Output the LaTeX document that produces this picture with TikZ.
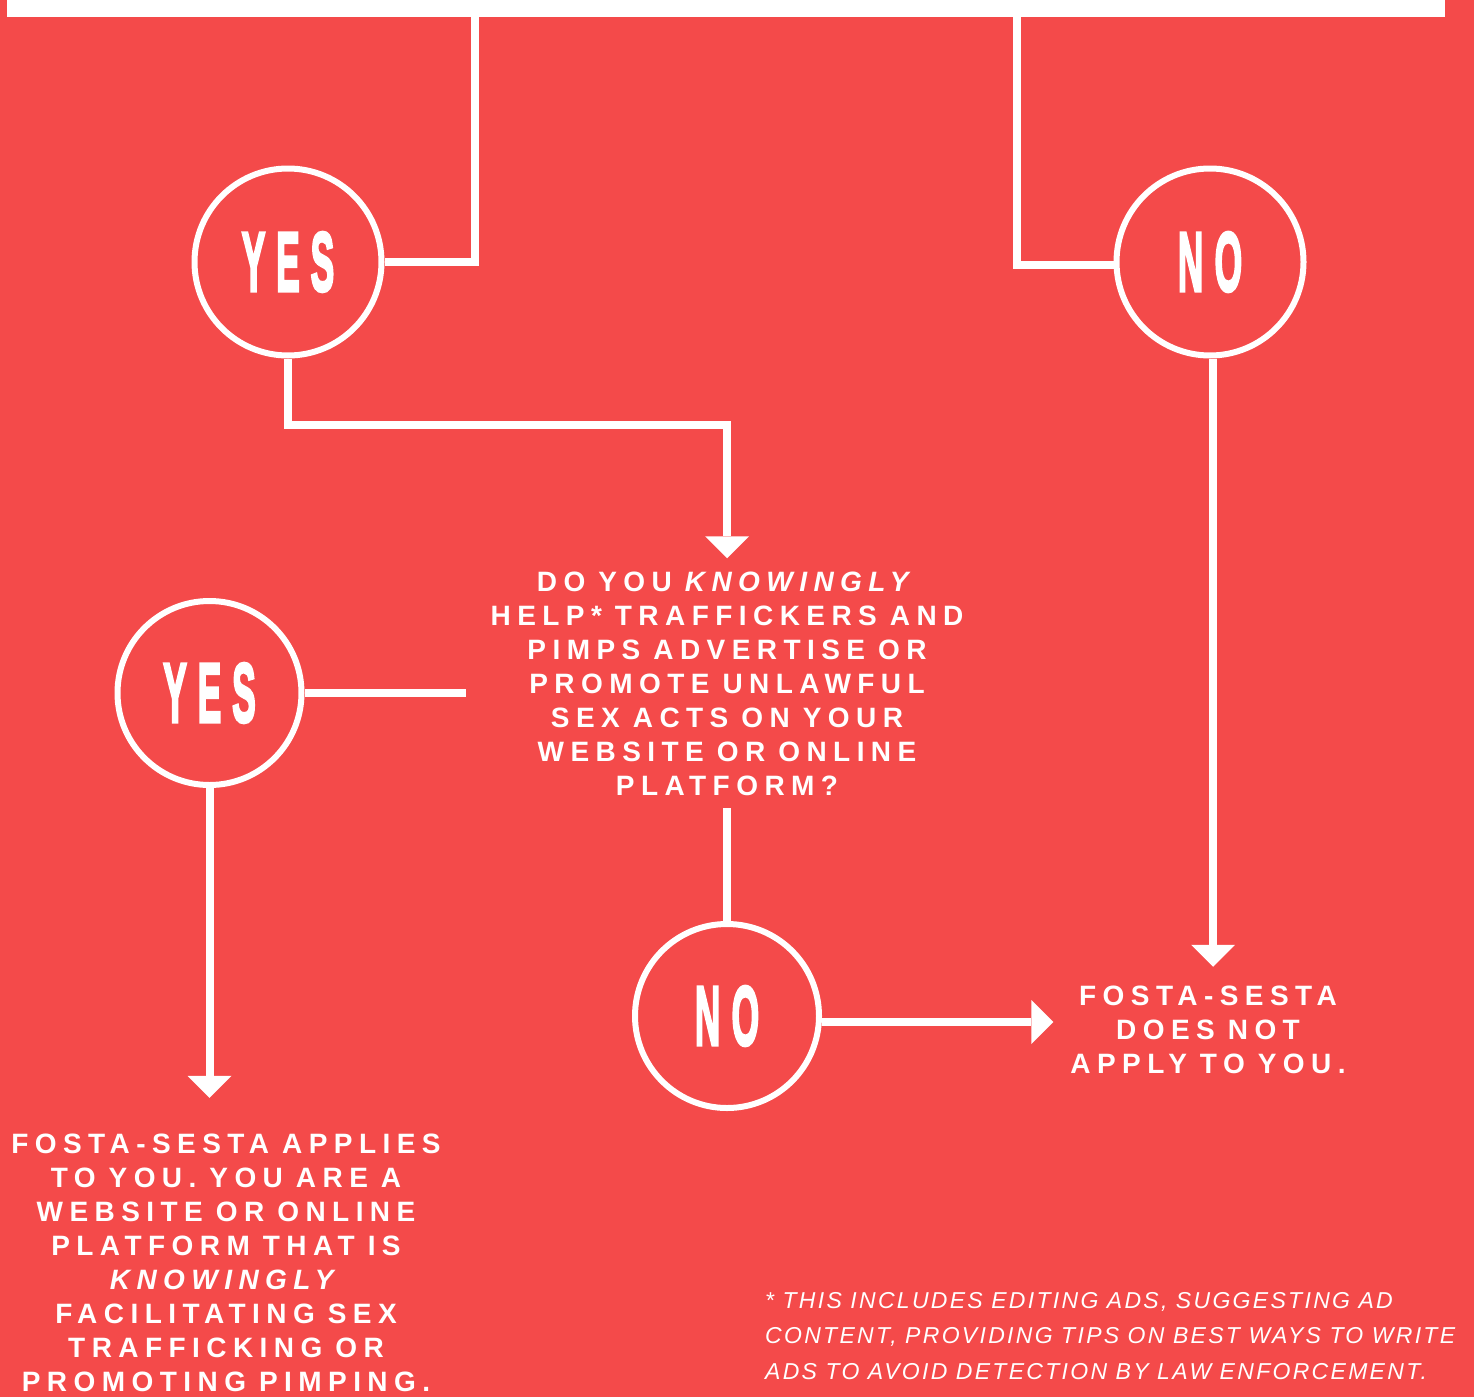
\documentclass[tikz,border=0pt]{standalone}
\usepackage{fontspec}
\setmainfont{Liberation Sans}
\newfontfamily\bodyfont{Liberation Sans}[LetterSpace=23]
\newfontfamily\notefont{Liberation Sans}[LetterSpace=10]
\newfontfamily\bubblefont{Liberation Sans Bold}[FakeBold=4]
\usetikzlibrary{arrows.meta}
\definecolor{bgred}{HTML}{F44A4A}
\newcommand\yesnolabel[1]{\scalebox{0.42}[1]{\bubblefont\fontsize{84}{84}\selectfont #1}}
\newcommand\wordgap{\spaceskip=13pt\relax}
\newcommand\notegap{\spaceskip=8.5pt\relax}
\begin{document}
\begin{tikzpicture}[x=1pt,y=-1pt,
  conn/.style={draw=white,line width=8pt},
  arr/.style={conn,-{Triangle[width=44pt,length=22pt,line width=0pt]}},
  bubble/.style={circle,draw=white,line width=6pt,inner sep=0pt,text=white},
  bigtext/.style={text=white,align=center,anchor=base,
    font=\bodyfont\bfseries\fontsize{28}{34}\selectfont},
  notetext/.style={text=white,align=left,anchor=base west,inner sep=0pt,
    text width=720pt,font=\notefont\itshape\fontsize{23}{35.5}\selectfont}]
\fill[bgred] (0,0) rectangle (1474,1397);
\useasboundingbox (0,0) rectangle (1474,1397);
\node[fill=white,inner sep=0pt,outer sep=0pt,minimum width=1438pt,minimum height=17pt,anchor=north west] (bar) at (7,0) {};
% bubbles
\node[bubble,minimum size=187pt] (yes1) at (288,262) {\yesnolabel{Y\kern26pt E\kern26pt S}};
\node[bubble,minimum size=187pt] (no1) at (1210,262) {\yesnolabel{N\kern27pt O}};
\node[bubble,minimum size=184pt] (yes2) at (209.5,693) {\yesnolabel{Y\kern26pt E\kern26pt S}};
\node[bubble,minimum size=184pt] (no2) at (727,1016) {\yesnolabel{N\kern27pt O}};
% texts
\node[bigtext,text width=520pt,inner xsep=1pt,inner ysep=13pt] (q) at (727,591)
  {\wordgap DO YOU \textit{KNOWINGLY}\\HELP* TRAFFICKERS AND\\PIMPS ADVERTISE OR\\PROMOTE UNLAWFUL\\SEX ACTS ON YOUR\\WEBSITE OR ONLINE\\PLATFORM?};
\node[bigtext,text width=300pt,inner xsep=4.5pt,inner ysep=18.5pt] (r) at (1208,1005)
  {\wordgap FOSTA-SESTA\\DOES NOT\\APPLY TO YOU.};
\node[bigtext,text width=450pt,inner xsep=0pt,inner ysep=35.5pt] (b) at (226,1153)
  {\wordgap FOSTA-SESTA APPLIES\\TO YOU. YOU ARE A\\WEBSITE OR ONLINE\\PLATFORM THAT IS\\\textit{KNOWINGLY}\\FACILITATING SEX\\TRAFFICKING OR\\PROMOTING PIMPING.};
\node[notetext] (n) at (765,1308)
  {\notegap * THIS INCLUDES EDITING ADS, SUGGESTING AD\\CONTENT, PROVIDING TIPS ON BEST WAYS TO WRITE\\ADS TO AVOID DETECTION BY LAW ENFORCEMENT.};
% connectors
\coordinate (t1) at (475,0);
\coordinate (t2) at (1017,0);
\coordinate (k1) at (727,425);
\draw[conn] (bar.south -| t1) |- (yes1.east);
\draw[conn] (bar.south -| t2) |- ([yshift=-3pt]no1.west);
\draw[arr] (yes1.south) |- (k1) -- (k1 |- q.north);
\draw[conn] (yes2.east) -- (yes2.east -| q.west);
\draw[conn] (q.south) -- (no2.north);
\draw[arr] ([yshift=-6pt]no2.east) -- ([yshift=-6pt]no2.east -| r.west);
\draw[arr] ([xshift=3pt]no1.south) -- ([xshift=3pt]no1.south |- r.north);
\draw[arr] (yes2.south) -- (yes2.south |- b.north);
\end{tikzpicture}
\end{document}
